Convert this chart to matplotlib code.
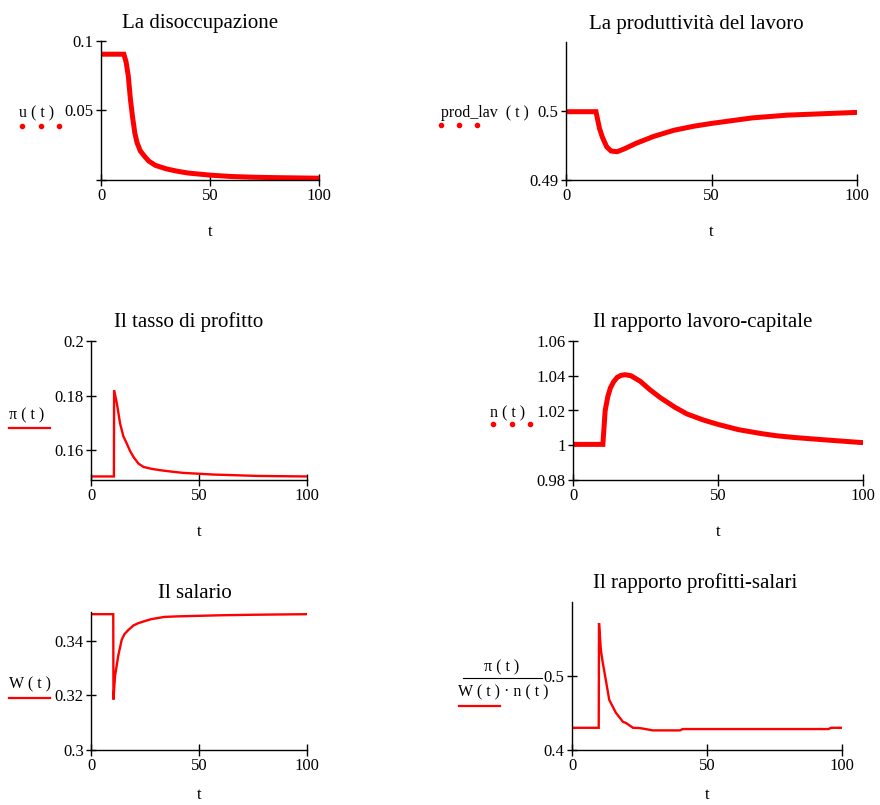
#Mathcad-style simulation panels
import matplotlib
matplotlib.use('Agg')
import matplotlib.pyplot as plt
from matplotlib.lines import Line2D

plt.rcParams['font.family'] = ['Liberation Serif', 'DejaVu Serif']

#data
t_u = [0, 10.5, 11.5, 12.5, 13.5, 14.5, 15.5, 16.5, 18, 20, 22, 25, 30, 35, 40, 50, 60, 70, 80, 90, 100]
u = [0.0905, 0.0905, 0.085, 0.075, 0.058, 0.045, 0.034, 0.027, 0.021, 0.017, 0.0135, 0.0105,
     0.008, 0.0063, 0.005, 0.0035, 0.0025, 0.002, 0.0017, 0.0015, 0.0013]

t_p = [0, 10.3, 11.5, 12.5, 14, 15.5, 17.5, 20, 24, 30, 37, 44, 50, 57, 64, 76, 88, 100]
prod = [0.4999, 0.4999, 0.4975, 0.4962, 0.4948, 0.4942, 0.4941, 0.4945, 0.4953, 0.4963, 0.4972,
        0.4978, 0.4982, 0.4986, 0.4990, 0.4994, 0.4996, 0.4998]

t_pi = [0, 10.6, 10.7, 12, 13.5, 15, 16.6, 18, 19.7, 22, 24.3, 28, 32, 37, 42.8, 50, 56.6, 65, 76.6, 100]
pi = [0.1503, 0.1503, 0.182, 0.177, 0.1696, 0.165, 0.1623, 0.1598, 0.1574, 0.155, 0.1538, 0.1531,
      0.1526, 0.1521, 0.1516, 0.1513, 0.1510, 0.1508, 0.1505, 0.1503]

t_n = [0, 10.3, 11.1, 12, 12.9, 14, 15.2, 16.5, 18, 20, 23.2, 26.5, 30.1, 35, 39.3, 45, 50, 57,
       64.6, 70, 76, 87.6, 100]
n = [1.0005, 1.0005, 1.020, 1.028, 1.033, 1.0365, 1.039, 1.0402, 1.0406, 1.0400, 1.0368, 1.032,
     1.0274, 1.022, 1.018, 1.0145, 1.012, 1.009, 1.0068, 1.0055, 1.0045, 1.003, 1.0015]

t_w = [0, 10.3, 10.4, 11.1, 12, 12.6, 14.2, 15.5, 17.3, 19.7, 21.9, 25, 28, 34, 40, 50, 60, 76, 100]
w = [0.3498, 0.3498, 0.3185, 0.327, 0.3315, 0.3345, 0.3404, 0.3425, 0.344, 0.3457, 0.3465, 0.3473,
     0.348, 0.3488, 0.3490, 0.3492, 0.3494, 0.3496, 0.3498]

t_r = [0, 9.9, 10.0, 10.7, 11.3, 12.6, 13.8, 14.6, 16.3, 18.9, 20, 22.6, 25, 30, 40, 41, 50, 75, 95, 96, 100]
ratio = [0.430, 0.430, 0.5716, 0.535, 0.52, 0.493, 0.4676, 0.462, 0.450, 0.438, 0.4365, 0.430,
         0.4297, 0.4265, 0.4265, 0.4283, 0.4283, 0.4283, 0.4283, 0.430, 0.430]

titles = ['La disoccupazione', 'La produttività del lavoro', 'Il tasso di profitto',
          'Il rapporto lavoro-capitale', 'Il salario', 'Il rapporto profitti-salari']

W, H = 880, 805
def fx(px):
    return px/W
def fy(py):
    return 1-py/H

fig = plt.figure(figsize=(8.8, 8.05), dpi=100)

#axes boxes in pixels: left, top, right, bottom
boxes = [(101, 41, 319, 180), (566, 42, 857, 180), (91, 341, 307, 480),
         (573, 341, 863, 480), (91, 612, 307, 750), (572, 602, 842, 750)]
series = [(t_u, u, 3.6), (t_p, prod, 3.6), (t_pi, pi, 1.7), (t_n, n, 3.6), (t_w, w, 1.7), (t_r, ratio, 1.7)]
ylims = [(0, 0.1), (0.49, 0.51), (0.149, 0.2), (0.98, 1.06), (0.3, 0.3506), (0.4, 0.6)]
yticks = [[0, 0.05, 0.1], [0.49, 0.5], [0.16, 0.18, 0.2], [0.98, 1, 1.02, 1.04, 1.06],
          [0.3, 0.32, 0.34], [0.4, 0.5]]
ylabels = [['', '0.05', '0.1'], ['0.49', '0.5'], ['0.16', '0.18', '0.2'],
           ['0.98', '1', '1.02', '1.04', '1.06'], ['0.3', '0.32', '0.34'], ['0.4', '0.5']]
#title centre x and baseline y in pixels
title_pos = [(200, 28), (696, 29), (189, 327), (703, 327), (195, 598), (695, 588)]

for i in range(6):
    l, t, r, b = boxes[i]
    ax = fig.add_axes([fx(l), fy(b), (r-l)/W, (b-t)/H])
    tt, yy, lw = series[i]
    ax.plot(tt, yy, color='#ff0000', lw=lw, solid_joinstyle='miter')
    ax.set_xlim(0, 100)
    ax.set_ylim(*ylims[i])
    ax.set_xticks([0, 50, 100])
    ax.set_xticklabels(['0', '50', '100'])
    ax.set_yticks(yticks[i])
    ax.set_yticklabels(ylabels[i])
    for s in ['top', 'right']:
        ax.spines[s].set_visible(False)
    for s in ['left', 'bottom']:
        ax.spines[s].set_linewidth(1.0)
        ax.spines[s].set_color('black')
    ax.tick_params(axis='x', direction='inout', length=8, width=1, labelsize=12, pad=2)
    ax.tick_params(axis='y', direction='inout', length=6.5, width=1, labelsize=12, pad=2)
    ax.set_xlabel('t', fontsize=12, labelpad=14 if i < 4 else 9)
    ax.patch.set_visible(False)
    fig.text(fx(title_pos[i][0]), fy(title_pos[i][1]), titles[i], fontsize=15,
             ha='center', va='baseline')

#legend-like labels on the left of each plot
def dots(xs, y):
    fig.add_artist(Line2D([fx(x) for x in xs], [fy(y)]*len(xs), ls='none', marker='o',
                          ms=3, color='#ff0000', transform=fig.transFigure))

def dash(x0, x1, y, color='#ff0000', lw=1.6):
    fig.add_artist(Line2D([fx(x0), fx(x1)], [fy(y), fy(y)], color=color, lw=lw,
                          transform=fig.transFigure))

fig.text(fx(37), fy(113), 'u ( t )', fontsize=11.5, ha='center', va='center')
dots([22, 41, 59], 126)
fig.text(fx(441), fy(113), 'prod_lav  ( t )', fontsize=11.5, ha='left', va='center')
dots([441, 459, 477], 125)
fig.text(fx(27), fy(415), 'π ( t )', fontsize=11.5, ha='center', va='center')
dash(9, 50, 428)
fig.text(fx(508), fy(413), 'n ( t )', fontsize=11.5, ha='center', va='center')
dots([493, 512, 530], 424)
fig.text(fx(30), fy(684), 'W ( t )', fontsize=11.5, ha='center', va='center')
dash(9, 50, 698)
fig.text(fx(502), fy(667), 'π ( t )', fontsize=11.5, ha='center', va='center')
dash(463, 542, 678, color='black', lw=0.8)
fig.text(fx(503), fy(692), 'W ( t ) · n ( t )', fontsize=11.5, ha='center', va='center')
dash(459, 500, 706)

fig.savefig('out.png', dpi=100)
